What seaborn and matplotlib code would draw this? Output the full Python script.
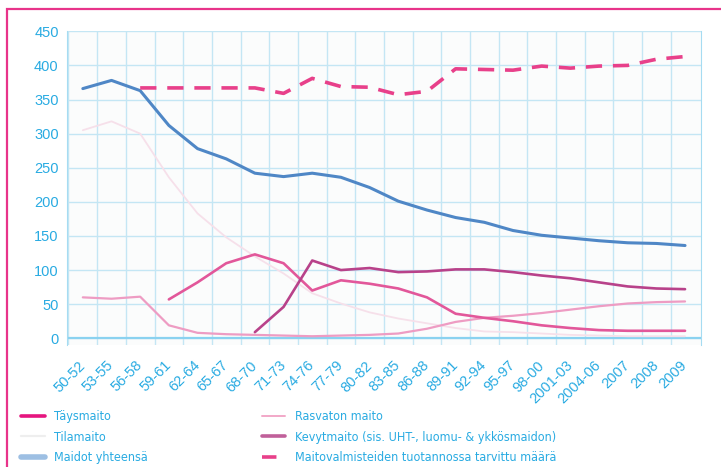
import numpy as np
import pandas as pd
import matplotlib
matplotlib.use("Agg")
import matplotlib.pyplot as plt
from matplotlib.lines import Line2D
from matplotlib.patches import Rectangle
import seaborn as sns

# Data (millions of litres)
periods = ["50-52", "53-55", "56-58", "59-61", "62-64", "65-67", "68-70", "71-73",
           "74-76", "77-79", "80-82", "83-85", "86-88", "89-91", "92-94", "95-97",
           "98-00", "2001-03", "2004-06", "2007", "2008", "2009"]

taysmaito = [None, None, None, 57, 82, 110, 123, 110, 70, 85, 80, 73, 60, 36, 30,
             25, 19, 15, 12, 11, 11, 11]
tilamaito = [305, 318, 300, 236, 183, 148, 120, 95, 66, 51, 38, 29, 22, 15, 10,
             9, 7, 5, 4, 3, 3, 3]
maidot_yht = [366, 378, 363, 312, 278, 263, 242, 237, 242, 236, 221, 201, 188, 177,
              170, 158, 151, 147, 143, 140, 139, 136]
rasvaton = [60, 58, 61, 19, 8, 6, 5, 4, 3, 4, 5, 7, 14, 24, 30, 33, 37, 42, 47,
            51, 53, 54]
kevytmaito = [None, None, None, None, None, None, 9, 46, 114, 100, 103, 97, 98,
              101, 101, 97, 92, 88, 82, 76, 73, 72]
valmisteet = [None, None, 367, 367, 367, 367, 367, 359, 381, 369, 368, 357, 362,
              395, 394, 393, 399, 396, 399, 400, 409, 413]

labels = ["Täysmaito", "Tilamaito", "Maidot yhteensä", "Rasvaton maito",
          "Kevytmaito (sis. UHT-, luomu- & ykkösmaidon)",
          "Maitovalmisteiden tuotannossa tarvittu määrä"]

txt_blue = "#29abe2"
grid_blue = "#c4e6f4"

sns.set_style("white")
plt.rcParams['font.family'] = ['Liberation Sans', 'DejaVu Sans']

df = pd.DataFrame({
    "pos": np.arange(len(periods)),
    "taysmaito": pd.array(taysmaito, dtype="Float64").astype(float),
    "tilamaito": tilamaito,
    "maidot": maidot_yht,
    "rasvaton": rasvaton,
    "kevyt": pd.array(kevytmaito, dtype="Float64").astype(float),
    "valmisteet": pd.array(valmisteet, dtype="Float64").astype(float),
})

fig = plt.figure(figsize=(7.21, 4.67), dpi=100)
ax = fig.add_axes([0.093, 0.261, 0.879, 0.672])
ax.set_facecolor("#fbfcfc")

sns.lineplot(data=df, x="pos", y="tilamaito", color="#f6e0ea", lw=1.3, ax=ax)
sns.lineplot(data=df, x="pos", y="rasvaton", color="#ee9cc3", lw=1.6, ax=ax)
sns.lineplot(data=df, x="pos", y="taysmaito", color="#e2579a", lw=1.9, ax=ax)
sns.lineplot(data=df, x="pos", y="kevyt", color="#b8428a", lw=1.9, ax=ax)
sns.lineplot(data=df, x="pos", y="maidot", color="#4f87c6", lw=2.2, ax=ax)
sns.lineplot(data=df, x="pos", y="valmisteet", color="#e8408a", lw=2.6, ax=ax,
             dashes=False, linestyle=(0, (4.5, 3)))

ax.set_xlim(-0.55, len(periods) - 0.45)
ax.set_ylim(-10, 450)
ax.set_yticks(np.arange(0, 451, 50))
ax.set_xticks(np.arange(len(periods)))
ax.set_xticklabels(periods, rotation=45, ha="right", va="center",
                   rotation_mode="anchor", color=txt_blue, fontsize=10.5)
ax.set_xticks(np.arange(len(periods)) - 0.5, minor=True)
ax.tick_params(axis="y", colors=txt_blue, labelsize=10.5, length=0, pad=6)
ax.tick_params(axis="x", which="major", length=0, pad=13)
ax.tick_params(axis="x", which="minor", length=0)
ax.set_xlabel("")
ax.set_ylabel("")

ax.grid(axis="y", which="major", color=grid_blue, lw=1.0)
ax.grid(axis="x", which="minor", color=grid_blue, lw=1.0)
ax.set_axisbelow(True)
ax.axhline(0, color="#8ad2f0", lw=1.6, zorder=1)
for side in ["top", "bottom"]:
    ax.spines[side].set_visible(False)
ax.spines["left"].set_color("#a6dcf2")
ax.spines["right"].set_color("#a6dcf2")

# legend (condensed face, like the original's narrow type)
h_left = [Line2D([], [], color="#e6157f", lw=2.6),
          Line2D([], [], color="#eeeeee", lw=1.6),
          Line2D([], [], color="#9dbfe3", lw=4)]
h_right = [Line2D([], [], color="#f2a8c8", lw=1.4),
           Line2D([], [], color="#c0609a", lw=2.6),
           Line2D([], [], color="#e8408a", lw=2.6, linestyle=(0, (4, 2.5)))]
kw = dict(frameon=False, handlelength=1.9, handletextpad=0.75,
          labelspacing=0.62, labelcolor=txt_blue, borderaxespad=0,
          prop=dict(family="DejaVu Sans", stretch="condensed", size=9))
fig.legend(h_left, labels[:3], loc="upper left", bbox_to_anchor=(0.022, 0.133), **kw)
fig.legend(h_right, labels[3:], loc="upper left", bbox_to_anchor=(0.356, 0.133), **kw)

# pink frame
fig.patches.append(Rectangle((0.0097, -0.1), 1.2, 1.081, transform=fig.transFigure,
                             fill=False, edgecolor="#e8338a", lw=1.6))

fig.savefig("out.png", dpi=100)
